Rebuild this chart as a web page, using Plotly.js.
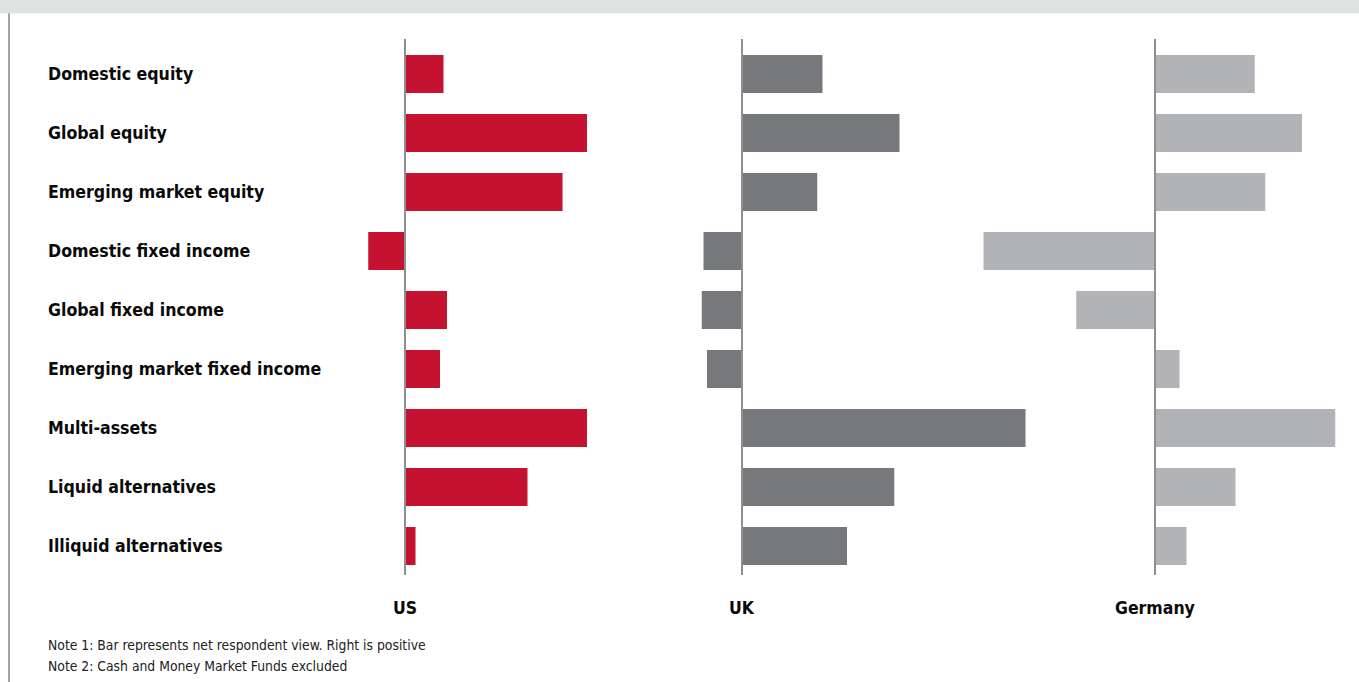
<!DOCTYPE html>
<html>
<head>
<meta charset="utf-8">
<script src="https://cdn.plot.ly/plotly-3.0.1.min.js"></script>
<style>
  html, body { margin: 0; padding: 0; background: #ffffff; }
  #chart { width: 1359px; height: 682px; }
</style>
</head>
<body>
<div id="chart"></div>
<script>
// ---- Data ----
const categories = [
  "Domestic equity",
  "Global equity",
  "Emerging market equity",
  "Domestic fixed income",
  "Global fixed income",
  "Emerging market fixed income",
  "Multi-assets",
  "Liquid alternatives",
  "Illiquid alternatives"
];
const regions = ["US", "UK", "Germany"];
const usValues      = [11, 52, 45, -10.5, 12, 10, 52, 35, 3];
const ukValues      = [23, 45, 21.5, -11, -11.5, -10, 81, 43.5, 30];
const germanyValues = [28.5, 42, 31.5, -49, -22.5, 7, 51.5, 23, 9];
const noteLines = [
  "Note 1: Bar represents net respondent view. Right is positive",
  "Note 2: Cash and Money Market Funds excluded"
];

// ---- Layout helpers (pixel geometry) ----
const W = 1359, H = 682;
const pxPerUnit = 3.5;
const zeroPx   = [405, 742, 1155];
const domainPx = [[355, 640], [690, 1040], [975, 1350]];
const colors   = ["#c41230", "#77787b", "#b1b3b6"];
const seriesValues = [usValues, ukValues, germanyValues];

const px = v => v / W;
const py = v => (H - v) / H;

const labelFont = "'DejaVu Sans Condensed', 'DejaVu Sans', sans-serif";
const noteFont = "'DejaVu Sans Condensed', 'DejaVu Sans', sans-serif";

const traces = seriesValues.map((vals, i) => ({
  type: "bar",
  orientation: "h",
  x: vals,
  y: categories,
  xaxis: i === 0 ? "x" : "x" + (i + 1),
  yaxis: "y",
  marker: { color: colors[i], line: { width: 0 } },
  hoverinfo: "skip",
  showlegend: false,
  name: regions[i]
}));

const layout = {
  width: W, height: H,
  margin: { l: 0, r: 0, t: 0, b: 0, pad: 0 },
  paper_bgcolor: "#ffffff",
  plot_bgcolor: "rgba(0,0,0,0)",
  bargap: 0.355,
  showlegend: false,
  yaxis: {
    domain: [py(575.5), py(44.5)],
    type: "category",
    autorange: false,
    range: [categories.length - 0.5, -0.5],
    showticklabels: false, showgrid: false, zeroline: false, showline: false, ticks: ""
  },
  shapes: [
    { type: "rect", xref: "paper", yref: "paper", x0: 0, x1: 1, y0: py(13.3), y1: 1,
      fillcolor: "#e0e1e3", line: { width: 0 }, layer: "below" },
    { type: "line", xref: "paper", yref: "paper", x0: px(9), x1: px(9), y0: 0, y1: py(13.3),
      line: { color: "#a3a3a3", width: 2 } }
  ],
  annotations: []
};

regions.forEach((r, i) => {
  const key = i === 0 ? "xaxis" : "xaxis" + (i + 1);
  const ref = i === 0 ? "x" : "x" + (i + 1);
  const [lo, hi] = domainPx[i];
  layout[key] = {
    domain: [px(lo), px(hi)],
    anchor: "y",
    autorange: false,
    range: [(lo - zeroPx[i]) / pxPerUnit, (hi - zeroPx[i]) / pxPerUnit],
    showticklabels: false, showgrid: false, zeroline: false, showline: false, ticks: ""
  };
  layout.shapes.push({
    type: "line", xref: ref, yref: "paper", x0: 0, x1: 0, y0: py(575), y1: py(39),
    line: { color: "#8f8f8f", width: 2 }, layer: "above"
  });
  layout.annotations.push({
    xref: ref, yref: "paper", x: 0, y: py(608), xanchor: "center", yanchor: "middle",
    text: r, showarrow: false,
    font: { family: labelFont, size: 17.5, color: "#0a0a0a", weight: "bold" }
  });
});

categories.forEach(c => {
  layout.annotations.push({
    xref: "paper", yref: "y", x: px(46), y: c, xanchor: "left", yanchor: "middle",
    text: c, showarrow: false,
    font: { family: labelFont, size: 17.6, color: "#0a0a0a", weight: "bold" }
  });
});

noteLines.forEach((t, i) => {
  layout.annotations.push({
    xref: "paper", yref: "paper", x: px(46), y: py(645 + i * 21), xanchor: "left", yanchor: "middle",
    text: t, showarrow: false,
    font: { family: noteFont, size: 13.8, color: "#222222" }
  });
});

Plotly.newPlot("chart", traces, layout, { displayModeBar: false, staticPlot: true });
</script>
</body>
</html>
